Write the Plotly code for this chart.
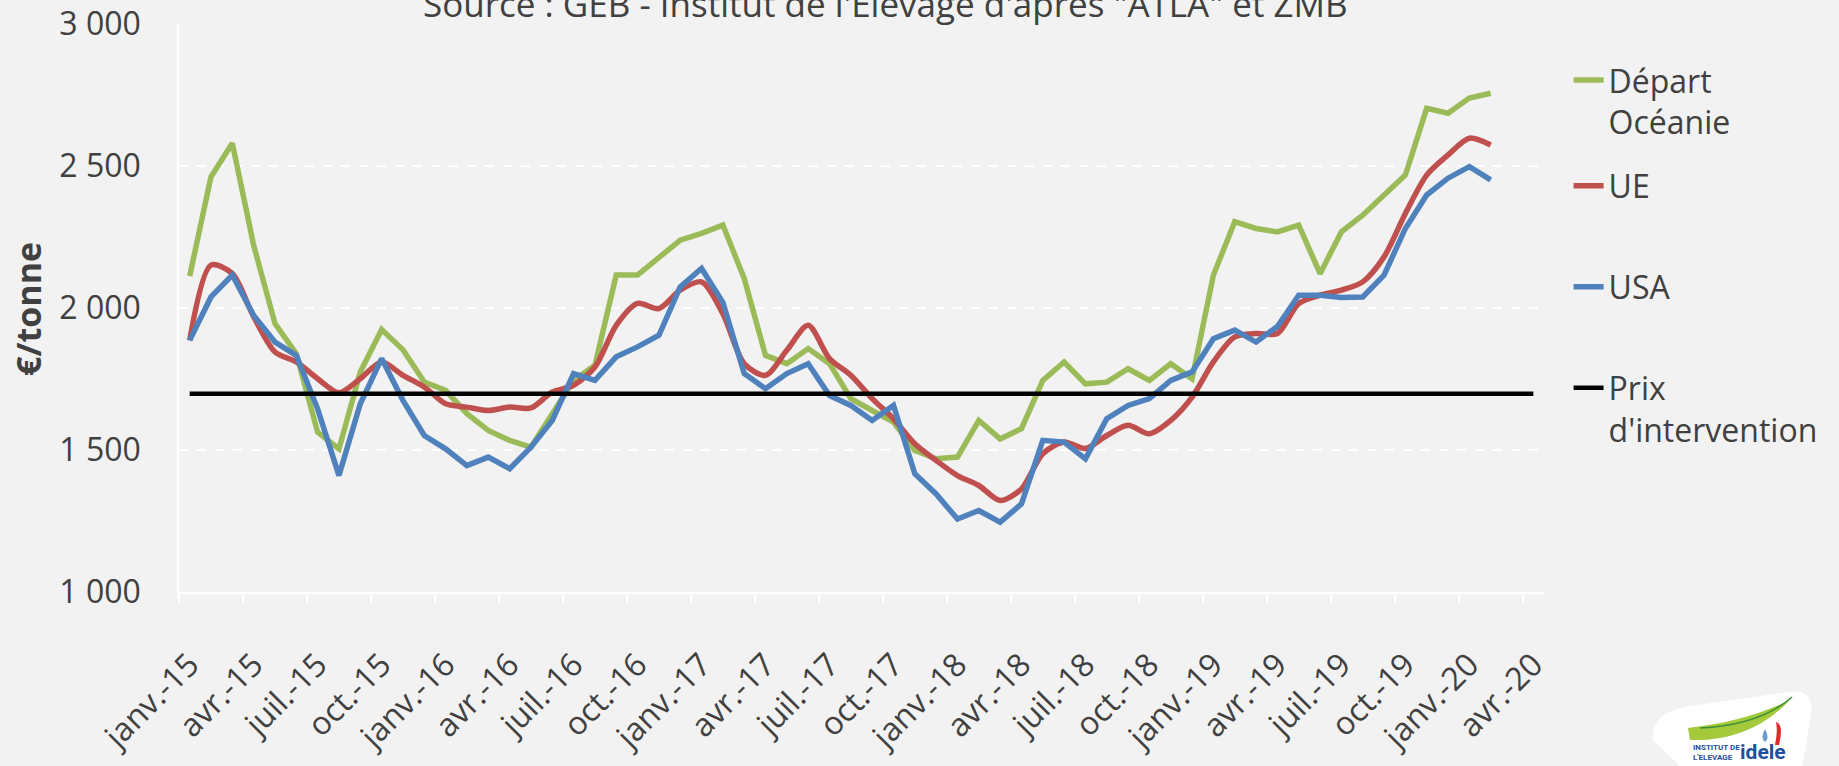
import plotly.graph_objects as go

# Prix du lait écrémé en poudre, €/tonne, mensuel de janv.-15 à févr.-20
depart_oceanie = [2112, 2462, 2580, 2221, 1945, 1839, 1563, 1504, 1775, 1924, 1853, 1739,
                  1710, 1628, 1569, 1534, 1510, 1628, 1745, 1798, 2116, 2116, 2180, 2239,
                  2263, 2292, 2104, 1833, 1804, 1857, 1804, 1681, 1639, 1598, 1498, 1469,
                  1475, 1604, 1539, 1575, 1745, 1810, 1733, 1739, 1786, 1745, 1804, 1751,
                  2116, 2304, 2280, 2268, 2292, 2121, 2268, 2327, 2398, 2468, 2703, 2686,
                  2739, 2756]
ue = [1886, 2151, 2121, 1969, 1845, 1810, 1751, 1702, 1751, 1810, 1763, 1722,
      1663, 1651, 1639, 1651, 1648, 1704, 1728, 1792, 1939, 2016, 1998, 2063,
      2092, 1980, 1804, 1763, 1851, 1939, 1822, 1763, 1681, 1610, 1522, 1463,
      1410, 1375, 1322, 1363, 1487, 1528, 1505, 1551, 1587, 1557, 1604, 1686,
      1810, 1898, 1910, 1910, 2016, 2045, 2063, 2092, 2180, 2333, 2468, 2539,
      2598, 2574]
usa = [1886, 2039, 2116, 1974, 1880, 1833, 1645, 1410, 1663, 1822, 1675, 1551,
       1504, 1445, 1475, 1434, 1510, 1604, 1769, 1745, 1828, 1863, 1904, 2074,
       2139, 2020, 1769, 1716, 1769, 1804, 1692, 1657, 1604, 1657, 1416, 1345,
       1257, 1287, 1246, 1310, 1534, 1528, 1469, 1610, 1657, 1681, 1745, 1775,
       1892, 1922, 1880, 1935, 2045, 2045, 2037, 2039, 2116, 2280, 2398, 2457,
       2498, 2451]
prix_intervention = [1698] * 64  # janv.-15 à avr.-20

x_labels = ["janv.-15", "avr.-15", "juil.-15", "oct.-15",
            "janv.-16", "avr.-16", "juil.-16", "oct.-16",
            "janv.-17", "avr.-17", "juil.-17", "oct.-17",
            "janv.-18", "avr.-18", "juil.-18", "oct.-18",
            "janv.-19", "avr.-19", "juil.-19", "oct.-19",
            "janv.-20", "avr.-20"]
y_ticks = [1000, 1500, 2000, 2500, 3000]
y_labels = ["1 000", "1 500", "2 000", "2 500", "3 000"]

FONT = "Century Gothic, Open Sans, sans-serif"
GREY = "#404040"

fig = go.Figure()
fig.add_trace(go.Scatter(x=list(range(len(depart_oceanie))), y=depart_oceanie, mode="lines",
                         name="Départ<br>Océanie", line=dict(color="#9BBB59", width=5.5),
                         legend="legend", showlegend=True))
fig.add_trace(go.Scatter(x=list(range(len(ue))), y=ue, mode="lines", name="UE",
                         line=dict(color="#C0504D", width=5.5, shape="spline", smoothing=0.8),
                         legend="legend2"))
fig.add_trace(go.Scatter(x=list(range(len(usa))), y=usa, mode="lines", name="USA",
                         line=dict(color="#4F81BD", width=5.5), legend="legend3"))
fig.add_trace(go.Scatter(x=list(range(len(prix_intervention))), y=prix_intervention, mode="lines",
                         name="Prix<br>d'intervention", line=dict(color="black", width=4.5),
                         legend="legend4"))

legend_style = dict(font=dict(family=FONT, size=32, color=GREY), bgcolor="rgba(0,0,0,0)",
                    x=1.018, xanchor="left", yanchor="middle", valign="top")
fig.update_layout(
    width=1839,
    height=766,
    showlegend=True,
    paper_bgcolor="#F2F2F2",
    plot_bgcolor="#F2F2F2",
    margin=dict(l=179, r=295, t=24, b=174, autoexpand=False),
    font=dict(family=FONT, color=GREY),
    legend=dict(legend_style, y=0.864),
    legend2=dict(legend_style, y=0.7148),
    legend3=dict(legend_style, y=0.537),
    legend4=dict(legend_style, y=0.3222),
    xaxis=dict(
        range=[-0.5, 63.5],
        automargin=False,
        tickmode="array",
        tickvals=list(range(0, 64, 3)),
        ticktext=x_labels,
        tickangle=-45,
        ticks="",
        ticklabelstandoff=39,
        tickfont=dict(size=32, color=GREY),
        showgrid=False,
        zeroline=False,
        showline=True,
        linecolor="white",
        linewidth=2,
        minor=dict(tickmode="array", tickvals=[-0.5 + 3 * k for k in range(22)],
                   ticks="outside", ticklen=9, tickcolor="white", tickwidth=1.5,
                   showgrid=False),
    ),
    yaxis=dict(
        range=[1000, 3000],
        automargin=False,
        tickmode="array",
        tickvals=y_ticks,
        ticktext=y_labels,
        ticks="",
        ticklabelstandoff=30,
        tickfont=dict(size=32, color=GREY),
        showgrid=True,
        gridcolor="white",
        griddash="dash",
        gridwidth=1.5,
        zeroline=False,
        showline=True,
        linecolor="white",
        linewidth=1.5,
    ),
)

# titre (coupé en haut comme dans l'original) et titre d'axe
fig.add_annotation(text="Source : GEB - Institut de l'Elevage d'après \"ATLA\" et ZMB",
                   xref="paper", yref="paper", x=(885 - 179) / 1365, y=1, xanchor="center",
                   yanchor="bottom", yshift=-5, showarrow=False,
                   font=dict(family=FONT, size=35, color=GREY))
fig.add_annotation(text="<b>€/tonne</b>", xref="paper", yref="paper", x=(28 - 179) / 1365,
                   y=(592 - 309) / 568, xanchor="center", yanchor="middle", textangle=-90,
                   showarrow=False, font=dict(family=FONT, size=34, color=GREY))


# logo idele (approximatif)
def px(x, y):
    return f"{(x - 179) / 1365:.4f},{(592 - y) / 568:.4f}"


fig.add_shape(type="path", xref="paper", yref="paper", line=dict(width=0), fillcolor="white",
              path=f"M {px(1653, 740)} Q {px(1650, 712)} {px(1690, 706)} L {px(1788, 692)} "
                   f"Q {px(1814, 688)} {px(1811, 714)} L {px(1802, 770)} L {px(1684, 770)} Z")
fig.add_shape(type="path", xref="paper", yref="paper", line=dict(width=0), fillcolor="#A4C93A",
              path=f"M {px(1688, 728)} Q {px(1745, 722)} {px(1790, 700)} "
                   f"Q {px(1750, 742)} {px(1690, 740)} Z")
fig.add_shape(type="path", xref="paper", yref="paper", line=dict(color="#3A8E3A", width=1.5),
              path=f"M {px(1700, 728)} Q {px(1760, 725)} {px(1792, 697)}")
fig.add_shape(type="path", xref="paper", yref="paper", line=dict(width=0), fillcolor="#E32A2A",
              path=f"M {px(1776, 722)} Q {px(1784, 724)} {px(1779, 745)} "
                   f"L {px(1775, 745)} Q {px(1778, 732)} {px(1776, 722)} Z")
fig.add_shape(type="path", xref="paper", yref="paper", line=dict(width=0), fillcolor="#6B9BD2",
              path=f"M {px(1765, 729)} Q {px(1770, 738)} {px(1765, 742)} "
                   f"Q {px(1760, 738)} {px(1765, 729)} Z")
fig.add_annotation(text="<b>INSTITUT DE<br>L'ELEVAGE</b>", xref="paper", yref="paper",
                   x=(1716 - 179) / 1365, y=(592 - 752) / 568, xanchor="center",
                   yanchor="middle", showarrow=False,
                   font=dict(family="Roboto", size=8, color="#1F4E9C"), align="left")
fig.add_annotation(text="<b>idele</b>", xref="paper", yref="paper",
                   x=(1763 - 179) / 1365, y=(592 - 752) / 568, xanchor="center",
                   yanchor="middle", showarrow=False,
                   font=dict(family="Roboto", size=21, color="#1F4E9C"))

fig.write_html("out.html", config={"displayModeBar": False},
               post_script="document.body.style.margin='0';")
